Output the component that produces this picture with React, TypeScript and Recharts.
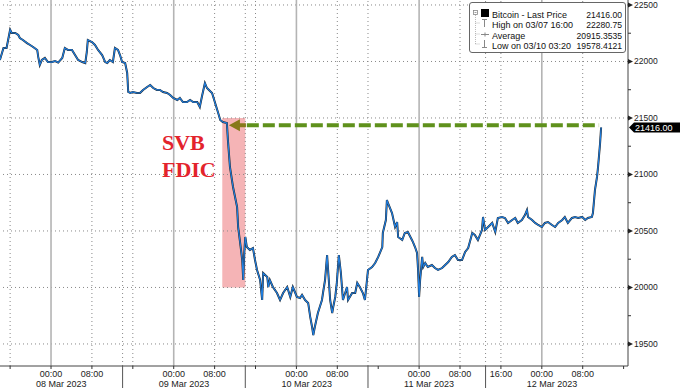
import React from 'react';
import { ComposedChart, Line, XAxis, YAxis, ReferenceLine, ReferenceArea, ReferenceDot } from 'recharts';

// Bitcoin last price, [hours since 08 Mar 2023 00:00, price]
const mar07: [number, number][] = [
  [-10.0, 22013], [-9.3, 22119], [-8.7, 22119], [-8.0, 22281], [-7.7, 22252], [-7.0, 22252], [-6.4, 22234], [-6.1, 22208],
  [-5.5, 22190], [-4.7, 22163], [-4.1, 22146], [-3.5, 22128], [-2.7, 22102], [-2.5, 22040], [-2.2, 21969], [-1.8, 22013],
  [-1.2, 22031], [-0.6, 21995],
];
const mar08: [number, number][] = [
  [0.2, 21995], [0.8, 22004], [1.4, 21990], [2.2, 22031], [2.7, 22119], [3.3, 22102], [4.1, 22102], [4.7, 22057],
  [5.3, 22013], [6.1, 21995], [6.7, 21986], [7.0, 22084], [7.2, 22190], [8.0, 22172], [8.6, 22146], [9.2, 22102],
  [10.0, 22057], [10.6, 21995], [11.0, 21986], [11.5, 22013], [12.1, 21995], [12.5, 22119], [13.1, 22102], [13.5, 22057],
  [13.9, 21995], [14.5, 21986], [14.9, 21898], [15.1, 21730], [15.5, 21721], [16.0, 21730], [16.8, 21721], [17.4, 21721],
  [18.0, 21748], [18.8, 21774], [19.4, 21792], [20.0, 21765], [20.7, 21748], [21.3, 21748], [21.9, 21730], [22.7, 21721],
  [23.3, 21703], [23.9, 21677],
];
const mar09: [number, number][] = [
  [24.7, 21659], [25.2, 21677], [25.8, 21641], [26.6, 21641], [27.2, 21659], [27.8, 21641], [28.6, 21641], [29.1, 21597],
  [29.5, 21686], [30.1, 21809], [30.5, 21765], [30.9, 21748], [31.5, 21721], [32.1, 21632], [32.7, 21544], [33.1, 21482],
  [33.6, 21464], [34.4, 21455], [34.6, 21305], [35.0, 21066], [35.6, 20889], [36.4, 20712], [36.6, 20535], [37.0, 20393],
  [37.4, 20243], [37.6, 20066], [37.8, 20305], [38.0, 20447], [38.3, 20358], [38.9, 20332], [39.5, 20349], [39.9, 20243],
  [40.3, 20155], [40.9, 20066], [41.3, 19889], [41.5, 20128], [42.3, 20093], [42.5, 20004], [42.8, 20066], [43.4, 20004],
  [44.2, 19951], [44.8, 19889], [45.4, 19951], [46.2, 20004], [46.8, 19916], [47.3, 20004],
];
const mar10: [number, number][] = [
  [48.1, 19916], [48.7, 19907], [49.1, 19934], [49.7, 19889], [50.3, 19863], [50.7, 19739], [51.1, 19641], [51.3, 19578],
  [51.6, 19650], [52.2, 19774], [53.0, 19889], [53.2, 19951], [53.6, 20066], [54.0, 20287], [54.2, 20155], [54.6, 19889],
  [55.0, 19774], [55.2, 19827], [55.6, 19916], [55.9, 20040], [56.3, 20287], [56.7, 20128], [57.1, 19889], [57.9, 20004],
  [58.1, 19889], [58.9, 19951], [59.5, 19951], [59.9, 20040], [60.4, 20004], [61.0, 19951], [61.4, 19889], [61.8, 20066],
  [62.0, 20155], [62.8, 20181], [63.4, 20216], [64.0, 20270], [64.8, 20358], [64.9, 20482], [65.5, 20597], [65.7, 20774],
  [65.9, 20748], [66.7, 20659], [67.3, 20535], [67.7, 20579], [67.9, 20447], [68.7, 20420], [69.2, 20482], [69.8, 20491],
  [70.6, 20420], [70.8, 20402], [71.2, 20358], [71.6, 20305], [71.8, 20155],
];
const mar11: [number, number][] = [
  [72.0, 19916], [72.2, 20066], [72.6, 20270], [72.8, 20181], [73.2, 20216], [73.7, 20181], [74.5, 20199], [75.1, 20172],
  [75.7, 20155], [76.5, 20172], [77.1, 20199], [77.7, 20225], [78.4, 20270], [79.0, 20287], [79.6, 20243], [80.4, 20243],
  [81.0, 20314], [81.6, 20349], [82.4, 20482], [82.9, 20464], [83.5, 20420], [84.3, 20509], [84.5, 20624], [84.9, 20509],
  [85.5, 20535], [86.3, 20571], [86.9, 20491], [87.4, 20615], [88.2, 20624], [88.8, 20615], [89.4, 20571], [90.2, 20597],
  [90.8, 20615], [91.3, 20571], [92.1, 20597], [92.7, 20641], [93.1, 20685], [93.3, 20624], [94.1, 20597], [94.7, 20571],
  [95.3, 20553],
];
const mar12: [number, number][] = [
  [96.0, 20535], [96.6, 20571], [97.2, 20579], [98.0, 20553], [98.6, 20535], [99.2, 20571], [100.0, 20597], [100.5, 20624],
  [101.1, 20571], [101.9, 20615], [102.5, 20624], [103.1, 20615], [103.9, 20624], [104.5, 20597], [105.0, 20615], [105.8, 20624],
  [106.0, 20659], [106.4, 20863], [106.8, 20978], [107.0, 21066], [107.4, 21278], [107.6, 21416],
];

const priceTicks = [19500, 20000, 20500, 21000, 21500, 22000, 22500];
const minorPriceTicks = [19750, 20250, 20750, 21250, 21750, 22250];
const dayStarts = [0, 24, 48, 72, 96];
const dayLabels = ['08 Mar 2023', '09 Mar 2023', '10 Mar 2023', '11 Mar 2023', '12 Mar 2023'];
const timeTickHours = [0, 8, 24, 32, 48, 56, 72, 80, 88, 96, 104];
const timeTickLabels = ['00:00', '08:00', '00:00', '08:00', '00:00', '08:00', '00:00', '08:00', '16:00', '00:00', '08:00'];
const separatorHours = [14, 38, 62, 85];
const minorTimeTicks = [-8, 16, 40, 64, 112];
const dottedHours = [-8, 8, 14, 16, 32, 38, 40, 56, 62, 80, 85, 88, 104];

const lastPrice = 21416.0;
const highPrice = 22280.75;
const averagePrice = 20915.3535;
const lowPrice = 19578.4121;
const arrowLevel = 21435;

const data = [...mar07, ...mar08, ...mar09, ...mar10, ...mar11, ...mar12].map(([h, p]) => ({ h, price: p }));
const xTicks = [...timeTickHours, ...separatorHours, ...minorTimeTicks].sort((a, b) => a - b);
const yTicks = [...priceTicks, ...minorPriceTicks].sort((a, b) => a - b);

const FONT = '"Liberation Sans", Arial, sans-serif';

const XTick = (props: any) => {
  const { x, y, payload } = props;
  const v = payload.value;
  const li = timeTickHours.indexOf(v);
  const di = dayStarts.indexOf(v);
  const sep = separatorHours.includes(v);
  return (
    <g>
      {sep ? (
        <line x1={x} x2={x} y1={y} y2={y + 22} stroke="#555" strokeWidth={1} />
      ) : (
        <line x1={x} x2={x} y1={y} y2={y + 3} stroke="#333" strokeWidth={1} />
      )}
      {li >= 0 && (
        <text x={x} y={y + 11} textAnchor="middle" fontFamily={FONT} fontSize={9} fill="#222">
          {timeTickLabels[li]}
        </text>
      )}
      {di >= 0 && (
        <text x={x - 15} y={y + 21} textAnchor="start" fontFamily={FONT} fontSize={9} fill="#222">
          {dayLabels[di]}
        </text>
      )}
    </g>
  );
};

const YTick = (props: any) => {
  const { x, y, payload } = props;
  const v = payload.value;
  if (priceTicks.includes(v)) {
    return (
      <g>
        <polygon points={`${x},${y - 2.5} ${x + 5},${y} ${x},${y + 2.5}`} fill="#222" />
        <text x={x + 6} y={y + 3} fontFamily={FONT} fontSize={8.5} fill="#222">
          {v}
        </text>
      </g>
    );
  }
  return <line x1={x} x2={x + 3} y1={y} y2={y} stroke="#333" strokeWidth={1} />;
};

const LegendBox = () => {
  const rows = [
    { label: 'Bitcoin - Last Price', value: lastPrice.toFixed(2) },
    { label: 'High on 03/07 16:00', value: highPrice.toFixed(2) },
    { label: 'Average', value: averagePrice.toFixed(4) },
    { label: 'Low on 03/10 03:20', value: lowPrice.toFixed(4) },
  ];
  const ys = [11, 21, 32, 42];
  return (
    <div
      style={{
        position: 'absolute',
        left: 469,
        top: 2,
        width: 157,
        height: 51,
        border: '1px solid #666',
        borderRadius: 3,
        background: '#fff',
        boxSizing: 'border-box',
      }}
    >
      <svg width={155} height={49} style={{ display: 'block' }}>
        <rect x={3.5} y={7.5} width={4} height={4} fill="none" stroke="#888" strokeWidth={0.8} />
        <line x1={4.5} x2={6.5} y1={9.5} y2={9.5} stroke="#888" strokeWidth={0.8} />
        <line x1={5.5} x2={5.5} y1={12} y2={41} stroke="#aaa" strokeWidth={0.8} strokeDasharray="1 1" />
        {[20, 31, 41].map((yy) => (
          <line key={yy} x1={5.5} x2={10} y1={yy} y2={yy} stroke="#aaa" strokeWidth={0.8} strokeDasharray="1 1" />
        ))}
        <rect x={11} y={6} width={8} height={8} fill="#000" />
        <line x1={12} x2={17} y1={16.5} y2={16.5} stroke="#888" />
        <line x1={14.5} x2={14.5} y1={16.5} y2={24} stroke="#888" />
        <line x1={11} x2={19} y1={31.5} y2={31.5} stroke="#888" />
        <line x1={15} x2={15} y1={29.5} y2={33.5} stroke="#888" />
        <line x1={14.5} x2={14.5} y1={37} y2={44} stroke="#888" />
        <line x1={12} x2={17} y1={44.5} y2={44.5} stroke="#888" />
        {rows.map((r, i) => (
          <g key={i}>
            <text x={22} y={ys[i] + 3.5} fontFamily={FONT} fontSize={9} fill="#111">
              {r.label}
            </text>
            <text x={152} y={ys[i] + 3.5} textAnchor="end" fontFamily={FONT} fontSize={8.6} fill="#111">
              {r.value}
            </text>
          </g>
        ))}
      </svg>
    </div>
  );
};

const TextMark = (txt: string) => (p: any) => (
  <text
    x={p.cx}
    y={p.cy}
    textAnchor="start"
    fontFamily='"Liberation Serif", "Times New Roman", serif'
    fontWeight="bold"
    fontSize={22}
    fill="#e3232c"
  >
    {txt}
  </text>
);

const ArrowHead = (p: any) => {
  const { cx, cy } = p;
  return (
    <polygon
      points={`${cx},${cy} ${cx + 11},${cy - 6} ${cx + 11},${cy - 2} ${cx + 17},${cy - 2} ${cx + 17},${cy + 2} ${cx + 11},${cy + 2} ${cx + 11},${cy + 6}`}
      fill="#86791a"
    />
  );
};

const PriceTag = (p: any) => {
  const { cx, cy } = p;
  return (
    <g>
      <polygon points={`${cx + 1},${cy} ${cx + 6},${cy - 5} ${cx + 52},${cy - 5} ${cx + 52},${cy + 5} ${cx + 6},${cy + 5}`} fill="#000" />
      <text x={cx + 7} y={cy + 3.5} fontFamily={FONT} fontSize={9} fill="#fff">
        {lastPrice.toFixed(2)}
      </text>
    </g>
  );
};

const X_MIN = -9.98;
const X_MAX = 112.86;

export default function App() {
  return (
    <div style={{ position: 'absolute', left: 0, top: 0, width: 680, height: 388, background: '#fff' }}>
      <ComposedChart width={680} height={388} data={data} margin={{ top: 0, right: 0, bottom: 0, left: 0 }}>
        <XAxis
          dataKey="h"
          type="number"
          domain={[X_MIN, X_MAX]}
          ticks={xTicks}
          interval={0}
          tick={<XTick />}
          tickLine={false}
          tickSize={0}
          tickMargin={0}
          axisLine={{ stroke: '#444', strokeWidth: 1 }}
          height={22}
          allowDataOverflow
        />
        <YAxis
          orientation="right"
          type="number"
          domain={[19305, 22544]}
          ticks={yTicks}
          interval={0}
          tick={<YTick />}
          tickLine={false}
          tickSize={0}
          tickMargin={0}
          axisLine={{ stroke: '#444', strokeWidth: 1 }}
          width={52}
          allowDataOverflow
        />
        {priceTicks.map((v) => (
          <ReferenceLine key={'h' + v} y={v} stroke="#888" strokeDasharray="1 3" strokeWidth={1} />
        ))}
        {dottedHours.map((v) => (
          <ReferenceLine key={'v' + v} x={v} stroke="#888" strokeDasharray="1 3" strokeWidth={1} />
        ))}
        {dayStarts.map((v) => (
          <ReferenceLine key={'d' + v} x={v} stroke="#b4b4b4" strokeWidth={1.6} />
        ))}
        <ReferenceArea x1={33.5} x2={38} y1={20000} y2={21500} fill="#f5b4b6" fillOpacity={1} stroke="none" />
        <Line type="linear" dataKey="price" stroke="#222" strokeWidth={2} dot={false} isAnimationActive={false} />
        <Line type="linear" dataKey="price" stroke="#1f7ee0" strokeWidth={1.2} dot={false} isAnimationActive={false} />
        <ReferenceLine
          segment={[
            { x: 38.3, y: arrowLevel },
            { x: 107.2, y: arrowLevel },
          ]}
          stroke="#5f911c"
          strokeWidth={4}
          strokeDasharray="12 4"
        />
        <ReferenceDot x={34.8} y={arrowLevel} r={0} shape={ArrowHead} />
        <ReferenceDot x={21.7} y={21216} r={0} shape={TextMark('SVB')} />
        <ReferenceDot x={21.7} y={20978} r={0} shape={TextMark('FDIC')} />
        <ReferenceDot x={X_MAX} y={lastPrice} r={0} ifOverflow="visible" shape={PriceTag} />
      </ComposedChart>
      <LegendBox />
    </div>
  );
}
